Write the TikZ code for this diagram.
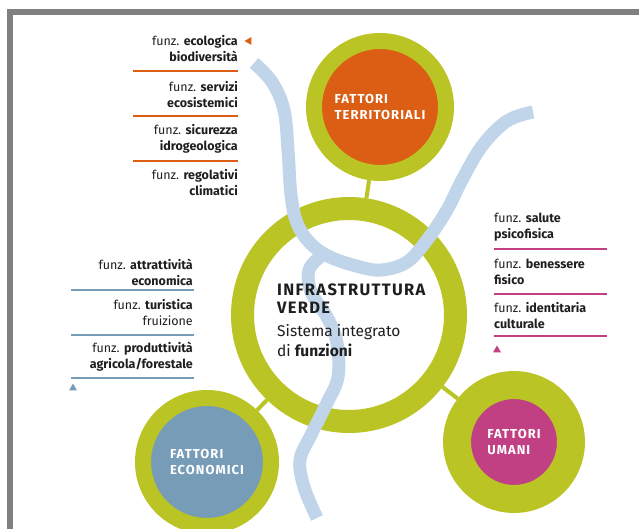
\documentclass[tikz,border=0pt]{standalone}
\usepackage{fontspec}
\setmainfont{Fira Sans}
\newfontfamily\capsfont[LetterSpace=8]{Fira Sans}
\usetikzlibrary{positioning,shapes.geometric}
\definecolor{ringgreen}{RGB}{187,196,37}
\definecolor{terrorange}{RGB}{219,94,20}
\definecolor{econblue}{RGB}{118,156,184}
\definecolor{umanimag}{RGB}{193,63,131}
\definecolor{riverblue}{RGB}{193,213,234}
\definecolor{framegray}{RGB}{128,128,128}
\definecolor{ink}{RGB}{30,30,30}
\tikzset{
  ring/.style={circle, draw=ringgreen, inner sep=0pt, text=white, align=left,
    font=\capsfont\bfseries\fontsize{13}{15.5}\selectfont},
  stem/.style={draw=ringgreen, line width=4pt},
  river/.style={draw=riverblue, line width=13pt},
  entry/.style={inner sep=0pt, text=ink, font=\fontsize{12.5}{16}\selectfont},
  sepline/.style={line width=1.5pt},
  marker/.style={regular polygon, regular polygon sides=3, inner sep=0pt, minimum size=9pt}
}
\begin{document}
\begin{tikzpicture}[x=1pt,y=-1pt]
\useasboundingbox (0,0) rectangle (639,529);
% frame
\fill[framegray] (7,9) rectangle (639,15);
\fill[framegray] (7,9) rectangle (13,529);
% circles
\node[ring, fill=terrorange, line width=16pt, minimum size=132pt] (terr) at (380,107) {FATTORI\\TERRITORIALI};
\node[ring, fill=white, line width=23pt, minimum size=213pt] (main) at (349,315) {};
\node[ring, fill=econblue, line width=16pt, minimum size=128pt] (econ) at (207,462) {FATTORI\\ECONOMICI};
\node[ring, fill=umanimag, line width=28pt, minimum size=114pt] (umani) at (514,442) {FATTORI\\UMANI};
\path[stem] (terr) -- (main);
\path[stem] (econ) -- (main);
\path[stem] (umani) -- (main);
% river
\draw[river] plot[smooth, tension=0.6] coordinates {(254,63) (272,82) (284,110) (288,150) (291,195) (297,223) (310,243) (330,257) (360,267) (382,270) (407,262) (427,240) (447,210) (462,180) (482,146) (507,121) (533,112)};
\draw[river] plot[smooth, tension=0.6] coordinates {(320,257) (309,270) (311,292) (327,317) (337,343) (338,377) (327,403) (311,435) (300,460) (304,487) (317,518)};
% center text
\node[anchor=north west, inner sep=0pt, text=ink, align=left,
  font=\capsfont\bfseries\fontsize{16.5}{17.5}\selectfont] (title) at (277,284) {INFRASTRUTTURA\\VERDE};
\node[below=11pt of title.south west, anchor=north west, inner sep=0pt, text=ink, align=left,
  font=\fontsize{15.5}{20}\selectfont] (subtitle) {Sistema integrato\\di \textbf{funzioni}};
% territorial functions
\node[entry, anchor=east, align=right] (ecol) at (238,49) {funz. \textbf{ecologica}\\\textbf{biodiversità}};
\node[entry, anchor=east, align=right] (serv) at (238,95) {funz. \textbf{servizi}\\\textbf{ecosistemici}};
\node[entry, anchor=east, align=right] (sicur) at (238,139) {funz. \textbf{sicurezza}\\\textbf{idrogeologica}};
\node[entry, anchor=east, align=right] (regol) at (238,183) {funz. \textbf{regolativi}\\\textbf{climatici}};
\draw[sepline, terrorange] (133,71) -- (238,71);
\draw[sepline, terrorange] (133,116) -- (238,116);
\draw[sepline, terrorange] (133,161) -- (238,161);
\node[marker, fill=terrorange, rotate=90] (terrmark) at (249,41) {};
% human functions
\node[entry, anchor=west, align=left] (salute) at (494,227.5) {funz. \textbf{salute}\\\textbf{psicofisica}};
\node[entry, anchor=west, align=left] (benes) at (494,271.5) {funz. \textbf{benessere}\\\textbf{fisico}};
\node[entry, anchor=west, align=left] (ident) at (494,315.5) {funz. \textbf{identitaria}\\\textbf{culturale}};
\draw[sepline, umanimag] (494,249) -- (607,249);
\draw[sepline, umanimag] (494,294) -- (607,294);
\draw[sepline, umanimag] (494,336) -- (607,336);
\node[marker, fill=umanimag] (umanimark) at (497,350) {};
% economic functions
\node[entry, anchor=east, align=right] (attr) at (193,272.5) {funz. \textbf{attrattività}\\\textbf{economica}};
\node[entry, anchor=east, align=right] (turis) at (193,313) {funz. \textbf{turistica}\\fruizione};
\node[entry, anchor=east, align=right] (produ) at (193,357) {funz. \textbf{produttività}\\\textbf{agricola/forestale}};
\draw[sepline, econblue] (71,290) -- (194,290);
\draw[sepline, econblue] (71,335) -- (194,335);
\draw[sepline, econblue] (71,378) -- (194,378);
\node[marker, fill=econblue] (econmark) at (73,388) {};
\end{tikzpicture}
\end{document}
